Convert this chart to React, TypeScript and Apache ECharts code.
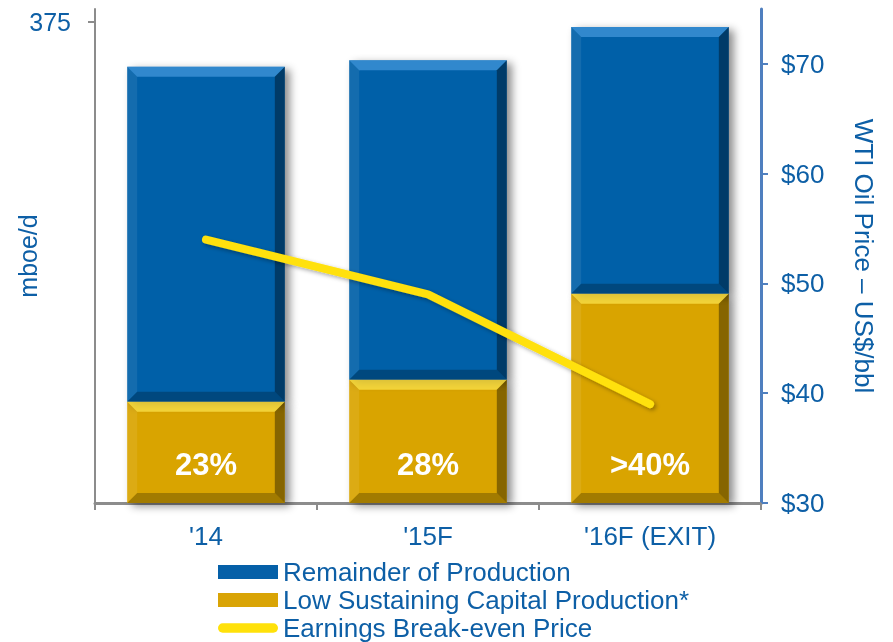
import React, { useEffect, useRef } from "react";
import * as echarts from "echarts";

const categories = ["'14", "'15F", "'16F (EXIT)"];
const lowSustaining = [79, 96, 163];
const remainder = [261, 249, 208];
const sharePct = ["23%", "28%", ">40%"];
const breakEven = [54, 49, 39];
const leftTicks = [375];
const rightTicks = [30, 40, 50, 60, 70];

const TEXT = "#0D5FA6";
const BLUE = "#0560A8";
const GOLD = "#D9A405";
const YELLOW = "#FFE10A";
const FONT = "'Liberation Sans', Arial, sans-serif";

export default function App() {
  const ref = useRef<HTMLDivElement>(null);
  useEffect(() => {
    if (!ref.current) return;
    const chart = echarts.init(ref.current, undefined, { renderer: "svg" });

    const bevelData: number[][] = [];
    categories.forEach((_, i) => {
      bevelData.push([i, 0, lowSustaining[i]]);
      bevelData.push([i, lowSustaining[i], lowSustaining[i] + remainder[i]]);
    });

    const barShadow = {
      shadowBlur: 8,
      shadowOffsetX: 5,
      shadowOffsetY: 3,
      shadowColor: "rgba(0,0,0,0.45)",
    };

    chart.setOption({
      animation: false,
      textStyle: { fontFamily: FONT },
      grid: { left: 95, right: 132, top: 9, bottom: 139, containLabel: false, outerBoundsMode: "none" },
      legend: {
        orient: "vertical",
        left: 218,
        top: 559,
        padding: 0,
        itemWidth: 60,
        itemHeight: 14,
        itemGap: 2,
        textStyle: { fontSize: 26, color: TEXT, fontFamily: FONT, lineHeight: 26 },
        data: [
          { name: "Remainder of Production", icon: "rect" },
          { name: "Low Sustaining Capital Production*", icon: "rect" },
          {
            name: "Earnings Break-even Price",
            icon: "path://M5,0 L59,0 A5,5 0 0 1 59,10 L5,10 A5,5 0 0 1 5,0 Z",
          },
        ],
      },
      xAxis: {
        type: "category",
        data: categories,
        axisLine: { lineStyle: { color: "#8C8C8C", width: 3 } },
        axisTick: { show: true, length: 7, lineStyle: { color: "#8C8C8C", width: 2 } },
        axisLabel: { fontSize: 26, color: TEXT, margin: 20, fontFamily: FONT },
      },
      yAxis: [
        {
          type: "value",
          min: 0,
          max: 385,
          position: "left",
          name: "mboe/d",
          nameLocation: "middle",
          nameGap: 55,
          nameMoveOverlap: false,
          nameRotate: 90,
          nameTextStyle: { fontSize: 25, color: TEXT, fontFamily: FONT },
          splitLine: { show: false },
          axisLine: { show: true, lineStyle: { color: "#8C8C8C", width: 2 } },
          axisTick: { show: true, length: 7, customValues: leftTicks, lineStyle: { color: "#8C8C8C", width: 2 } },
          axisLabel: { fontSize: 25, color: TEXT, margin: 24, customValues: leftTicks, fontFamily: FONT },
        },
        {
          type: "value",
          min: 30,
          max: 75,
          position: "right",
          name: "WTI Oil Price – US$/bbl",
          nameLocation: "middle",
          nameGap: 90,
          nameRotate: -90,
          nameTextStyle: { fontSize: 26, color: TEXT, fontFamily: FONT },
          splitLine: { show: false },
          axisLine: { show: true, lineStyle: { color: "#4F7FBF", width: 3 } },
          axisTick: { show: true, length: 7, customValues: rightTicks, lineStyle: { color: "#4F7FBF", width: 2 } },
          axisLabel: {
            fontSize: 26,
            color: TEXT,
            margin: 20,
            customValues: rightTicks,
            formatter: (v: number) => "$" + v,
            fontFamily: FONT,
          },
        },
      ],
      series: [
        {
          name: "Low Sustaining Capital Production*",
          type: "bar",
          stack: "prod",
          yAxisIndex: 0,
          barWidth: "71%",
          data: lowSustaining,
          itemStyle: { color: GOLD, ...barShadow },
          label: {
            show: true,
            position: "insideBottom",
            distance: 23,
            formatter: (p: any) => sharePct[p.dataIndex],
            color: "#FFFFFF",
            fontSize: 31,
            fontWeight: "bold",
            fontFamily: FONT,
          },
          z: 2,
        },
        {
          name: "Remainder of Production",
          type: "bar",
          stack: "prod",
          yAxisIndex: 0,
          barWidth: "71%",
          data: remainder,
          itemStyle: { color: BLUE, ...barShadow },
          z: 2,
        },
        {
          name: "bevel",
          type: "custom",
          yAxisIndex: 0,
          silent: true,
          z: 3,
          data: bevelData,
          renderItem: (params: any, api: any) => {
            const i = api.value(0);
            const lo = api.coord([i, api.value(1)]);
            const hi = api.coord([i, api.value(2)]);
            const w = api.size([1, 0])[0] * 0.71;
            const x0 = lo[0] - w / 2;
            const x1 = lo[0] + w / 2;
            const yb = lo[1];
            const yt = hi[1];
            const b = 10;
            const isGold = params.dataIndex % 2 === 0;
            const topCol = isGold ? "rgba(255,232,80,0.7)" : "rgba(90,170,235,0.55)";
            return {
              type: "group",
              children: [
                { type: "polygon", shape: { points: [[x0, yt], [x1, yt], [x1 - b, yt + b], [x0 + b, yt + b]] }, style: { fill: topCol } },
                { type: "polygon", shape: { points: [[x0, yt], [x0 + b, yt + b], [x0 + b, yb - b], [x0, yb]] }, style: { fill: "rgba(255,255,255,0.08)" } },
                { type: "polygon", shape: { points: [[x1, yt], [x1, yb], [x1 - b, yb - b], [x1 - b, yt + b]] }, style: { fill: "rgba(0,0,0,0.38)" } },
                { type: "polygon", shape: { points: [[x0, yb], [x1, yb], [x1 - b, yb - b], [x0 + b, yb - b]] }, style: { fill: "rgba(0,0,0,0.25)" } },
              ],
            };
          },
        },
        {
          name: "Earnings Break-even Price",
          type: "line",
          yAxisIndex: 1,
          data: breakEven,
          symbol: "none",
          z: 5,
          itemStyle: { color: YELLOW },
          lineStyle: {
            color: YELLOW,
            width: 8,
            cap: "round",
            join: "round",
            shadowBlur: 4,
            shadowOffsetX: 2,
            shadowOffsetY: 2,
            shadowColor: "rgba(0,0,0,0.35)",
          },
        },
      ],
    });
    return () => chart.dispose();
  }, []);

  return <div ref={ref} style={{ position: "fixed", left: 0, top: 0, width: 893, height: 642 }} />;
}
